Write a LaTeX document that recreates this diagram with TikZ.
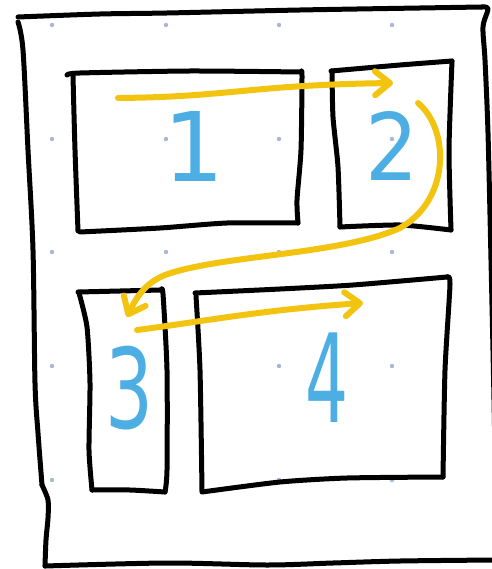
\documentclass[tikz,border=0pt]{standalone}
\usepackage{fontspec}
\setmainfont{DejaVu Sans}
\usetikzlibrary{arrows.meta}
\definecolor{penyellow}{HTML}{F2C40F}
\definecolor{penblue}{HTML}{4DAEE4}
\definecolor{griddot}{HTML}{A7B7D7}
\begin{document}
\begin{tikzpicture}[x=1pt,y=-1pt,
  sketch/.style={line width=5pt,line cap=round,line join=round,draw=black},
  flow/.style={line width=6pt,line cap=round,line join=round,draw=penyellow,
    -{Straight Barb[length=15pt,width=24pt,round]}},
  digit/.style={text=penblue,inner sep=0pt}]
\useasboundingbox (0,0) rectangle (491,569);
\fill[white] (0,0) rectangle (491,569);
% dot grid
\foreach \gx in {52,166,279,392}
  \foreach \gy in {25,139,252,366,480}
    \fill[griddot] (\gx,\gy) circle (2.2pt);
% outer page
\draw[sketch] plot[smooth,tension=0.5] coordinates {(18,17) (100,14) (167,13) (300,10) (420,8) (482,7)};
\draw[sketch] plot[smooth,tension=0.5] coordinates {(482,7) (488,9) (483,27) (485,60) (488,133) (491,260) (494,400) (497,569)};
\draw[sketch] plot[smooth,tension=0.5] coordinates {(18,22) (23,50) (28,150) (33,250) (35,383) (38,433) (42,485)};
\draw[sketch] plot[smooth,tension=0.5] coordinates {(42,485) (48,500) (48,518) (46,540) (45,566)};
\draw[sketch] plot[smooth,tension=0.5] coordinates {(45,566) (167,563) (267,565) (333,563) (400,561) (495,560)};
% panel 1
\draw[sketch] plot[smooth,tension=0.4] coordinates {(67,75) (80,73) (190,71) (301,72)};
\draw[sketch] plot[smooth,tension=0.4] coordinates {(301,72) (302,76) (301,150) (297,200) (298,223)};
\draw[sketch] plot[smooth,tension=0.4] coordinates {(298,223) (227,223) (160,228) (80,232)};
\draw[sketch] plot[smooth,tension=0.4] coordinates {(73,76) (75,150) (78,231)};
% panel 2
\draw[sketch] plot[smooth,tension=0.4] coordinates {(331,71) (400,65) (452,61)};
\draw[sketch] plot[smooth,tension=0.4] coordinates {(452,61) (449,150) (451,230)};
\draw[sketch] plot[smooth,tension=0.4] coordinates {(451,230) (400,225) (340,227)};
\draw[sketch] plot[smooth,tension=0.4] coordinates {(332,71) (333,117) (338,167) (340,227)};
% panel 3
\draw[sketch] plot[smooth,tension=0.4] coordinates {(78,292) (120,291) (161,290)};
\draw[sketch] plot[smooth,tension=0.4] coordinates {(161,290) (163,294) (167,370) (167,470) (165,492)};
\draw[sketch] plot[smooth,tension=0.4] coordinates {(165,492) (130,490) (92,490)};
\draw[sketch] plot[smooth,tension=0.4] coordinates {(79,293) (87,327) (90,383) (89,450) (92,490)};
% panel 4
\draw[sketch] plot[smooth,tension=0.4] coordinates {(195,293) (280,289) (353,285) (447,277)};
\draw[sketch] plot[smooth,tension=0.4] coordinates {(447,277) (450,284) (445,370) (443,477)};
\draw[sketch] plot[smooth,tension=0.4] coordinates {(443,477) (347,478) (280,482) (202,492)};
\draw[sketch] plot[smooth,tension=0.4] coordinates {(196,296) (200,370) (202,491)};
% digits
\node[digit,font=\fontsize{96}{96}\selectfont] (n1) at (194,147) {\scalebox{1}[1]{1}};
\node[digit,font=\fontsize{93}{93}\selectfont] (n2) at (392,146) {\scalebox{0.9}[1]{2}};
\node[digit,font=\fontsize{111}{111}\selectfont] (n3) at (130,388) {\scalebox{0.68}[1]{3}};
\node[digit,font=\fontsize{123}{123}\selectfont] (n4) at (327,378) {\scalebox{0.55}[1]{4}};
% reading-order arrows
\coordinate (a1s) at (118,98);
\coordinate (a1e) at (393,83);
\coordinate (a2s) at (418,103);
\coordinate (a2e) at (127,317);
\coordinate (a3s) at (137,330);
\coordinate (a3e) at (363,303);
\draw[flow] (a1s) .. controls (230,97) and (250,85) .. (a1e);
\draw[flow] (a2s) .. controls (450,130) and (450,200) .. (400,228)
  .. controls (340,255) and (220,255) .. (165,275)
  .. controls (145,283) and (136,298) .. (a2e);
\draw[flow] (a3s) .. controls (200,322) and (260,310) .. (a3e);
\end{tikzpicture}
\end{document}
